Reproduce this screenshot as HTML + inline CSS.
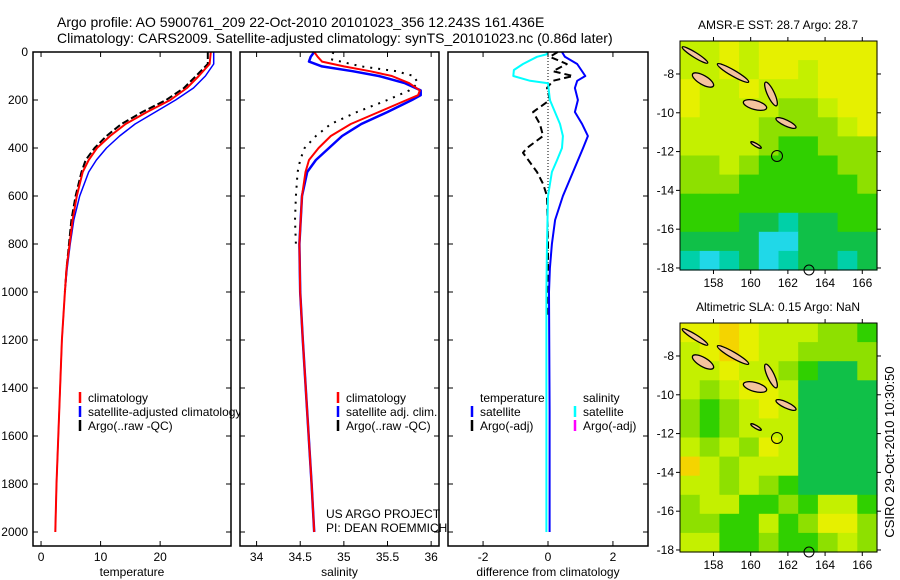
<!DOCTYPE html>
<html><head><meta charset="utf-8"><style>
html,body{margin:0;padding:0;background:#fff;}
svg{display:block;font-family:"Liberation Sans",sans-serif;}
text{fill:#000;}
</style></head><body>
<svg id="fig" width="900" height="580" viewBox="0 0 900 580" xmlns="http://www.w3.org/2000/svg">
<text x="57" y="27" font-size="14">Argo profile: AO 5900761_209 22-Oct-2010 20101023_356 12.243S 161.436E</text>
<text x="57" y="43" font-size="14">Climatology: CARS2009. Satellite-adjusted climatology: synTS_20101023.nc (0.86d later)</text>
<g id="p1"></g>
<g id="p2"></g>
<g id="p3"></g>
<g id="m1"></g>
<g id="m2"></g>
<text x="326" y="518" font-size="12">US ARGO PROJECT</text>
<text x="326" y="532" font-size="12">PI: DEAN ROEMMICH</text>
<text transform="translate(894,452) rotate(-90)" text-anchor="middle" font-size="13">CSIRO 29-Oct-2010 10:30:50</text>
</svg>
<script>
// ---- data ----
const tDepth = [0,50,100,150,200,250,300,350,400,450,500,600,700,800,900,1000,1200,1400,1600,1800,2000];
const tClim  = [28.5,28.3,26.5,24.5,21.7,17.8,14.2,11.6,9.4,8.0,7.0,6.0,5.3,4.8,4.3,4.0,3.5,3.2,2.9,2.6,2.4];
const tSat   = [29.0,29.0,27.6,25.6,22.6,19.2,15.8,13.2,11.0,9.3,8.0,6.5,5.5,4.9,4.4,4.0,3.5,3.2,2.9,2.6,2.4];
const tArgoDepth = [0,50,100,150,200,250,300,350,400,450,500,600,700,800,900,1000];
const tArgo  = [28.0,28.0,26.0,24.0,21.0,17.0,13.5,11.0,9.0,7.5,6.8,5.8,5.1,4.7,4.3,4.0];
const sDepth = [0,20,40,60,80,100,130,160,180,200,250,300,350,400,450,500,600,800,1000,1200,1500,1800,2000];
const sClim  = [34.66,34.70,34.75,35.00,35.30,35.55,35.75,35.87,35.85,35.72,35.40,35.08,34.85,34.71,34.60,34.56,34.52,34.49,34.50,34.53,34.58,34.63,34.66];
const sSat   = [34.66,34.62,34.60,34.75,35.10,35.40,35.70,35.88,35.88,35.78,35.50,35.20,34.98,34.83,34.68,34.58,34.52,34.49,34.50,34.53,34.58,34.63,34.66];
const sArgoDepth = [0,30,60,80,100,130,160,200,250,300,350,400,450,500,600,700,800];
const sArgo  = [34.88,34.85,35.20,35.60,35.80,35.85,35.75,35.50,35.15,34.85,34.68,34.55,34.50,34.47,34.45,34.44,34.45];
const dDepth = [0,10,20,50,75,100,120,130,200,300,350,400,450,500,600,800,1000,1500,2000];
const dSalSat = [0,-0.05,-0.34,-0.77,-1.05,-1.07,-0.55,0,0.06,0.37,0.46,0.43,0.28,0.12,0,-0.03,-0.05,-0.05,-0.05];
const dtDepth = [0,20,50,100,120,150,200,250,300,350,400,500,600,700,800,900,1000,1500,2000];
const dTempSat = [0.43,0.52,0.9,1.15,0.9,0.83,0.92,0.83,1.05,1.23,1.08,0.77,0.46,0.22,0.12,0.06,0.03,0.05,0.05];
const daDepth = [0,20,50,80,100,120,150,200,250,300,350,400,420,500,550,600,800,1000,1100];
const dTempArgo = [0.3,0.06,0.58,0.15,0.77,0.15,-0.03,0.06,-0.46,-0.25,-0.15,-0.65,-0.77,-0.34,-0.15,-0.03,0,0,0];
const depthTicks = [0,200,400,600,800,1000,1200,1400,1600,1800,2000];
const tTicks = [0,10,20];
const sTicks = [34,34.5,35,35.5,36];
const dTicks = [-2,0,2];
const latTicks = [-8,-10,-12,-14,-16,-18];
const lonTicks = [158,160,162,164,166];

const NS='http://www.w3.org/2000/svg';
const svg=document.getElementById('fig');
function mk(tag,attrs,parent){const e=document.createElementNS(NS,tag);for(const k in attrs)e.setAttribute(k,attrs[k]);(parent||svg).appendChild(e);return e;}
const Y=d=>52+d*0.24;
const Y0=52,Y1=546;

function panel(g,x0,x1,dom){
  mk('rect',{x:x0,y:Y0,width:x1-x0,height:Y1-Y0,fill:'#fff',stroke:'none'},g);
  const X=v=>x0+(v-dom[0])/(dom[1]-dom[0])*(x1-x0);
  return X;
}
function frame(g,x0,x1,X,ticks,label,yLabels){
  mk('rect',{x:x0,y:Y0,width:x1-x0,height:Y1-Y0,fill:'none',stroke:'#000','stroke-width':1.5},g);
  ticks.forEach(v=>{
    const x=X(v);
    const t1=mk('line',{x1:x,x2:x,y1:Y1,y2:Y1-5,stroke:'#000'},g);
    
    
    mk('line',{x1:x,x2:x,y1:Y0,y2:Y0+5,stroke:'#000'},g);
    const tl=mk('text',{x:x,y:Y1+15,'font-size':12,'text-anchor':'middle'},g);
    tl.textContent=String(v);
    
    
  });
  depthTicks.forEach(d=>{
    const y=Y(d);
    mk('line',{x1:x0,x2:x0+5,y1:y,y2:y,stroke:'#000'},g);
    mk('line',{x1:x1,x2:x1-5,y1:y,y2:y,stroke:'#000'},g);
    if(yLabels){
      const tl=mk('text',{x:x0-5,y:y+4,'font-size':12,'text-anchor':'end'},g);
      tl.textContent=String(d);
      
      
    }
  });
  const al=mk('text',{x:(x0+x1)/2,y:576,'font-size':12,'text-anchor':'middle'},g);
  al.textContent=label;
  
  
}
function line(g,X,vals,depths,color,w,dash,name){
  const pts=vals.map((v,i)=>X(v).toFixed(1)+','+Y(depths[i]).toFixed(1)).join(' ');
  const a={points:pts,fill:'none',stroke:color,'stroke-width':w,'stroke-linejoin':'round'};
  if(dash)a['stroke-dasharray']=dash;
  const p=mk('polyline',a,g);
  
  
}
function legend(g,x,y,color,txt){
  if(color){const m=mk('line',{x1:x,x2:x,y1:y-10,y2:y+1,stroke:color,'stroke-width':2.5},g);
    
    }
  const t=mk('text',{x:x+8,y:y,'font-size':12},g);
  t.textContent=txt;
  
  
}
// panel 1
const g1=document.getElementById('p1');
const X1=panel(g1,33,231,[-1.35,31.9]);
line(g1,X1,tArgo,tArgoDepth,'#000',2,'7,3','argo-temperature-line');
line(g1,X1,tSat,tDepth,'#0000ff',1.5,null,'satellite-temperature-line');
line(g1,X1,tClim,tDepth,'#ff0000',2,null,'climatology-temperature-line');
legend(g1,80,402,'#ff0000','climatology');
legend(g1,80,416,'#0000ff','satellite-adjusted climatology');
legend(g1,80,430,'#000','Argo(..raw -QC)');
frame(g1,33,231,X1,tTicks,'temperature',true);
// panel 2
const g2=document.getElementById('p2');
const X2=panel(g2,240,439,[33.81,36.09]);
line(g2,X2,sArgo,sArgoDepth,'#000',2,'2,6','argo-salinity-line');
line(g2,X2,sSat,sDepth,'#0000ff',2.5,null,'satellite-salinity-line');
line(g2,X2,sClim,sDepth,'#ff0000',2,null,'climatology-salinity-line');
legend(g2,338,402,'#ff0000','climatology');
legend(g2,338,416,'#0000ff','satellite adj. clim.');
legend(g2,338,430,'#000','Argo(..raw -QC)');
frame(g2,240,439,X2,sTicks,'salinity',false);
// panel 3
const g3=document.getElementById('p3');
const X3=panel(g3,448,648,[-3.08,3.08]);
mk('line',{x1:X3(0),x2:X3(0),y1:Y0,y2:Y(900),stroke:'#000','stroke-dasharray':'1,2'},g3);
line(g3,X3,dTempArgo,daDepth,'#000',2,'7,4','argo-temperature-diff-line');
line(g3,X3,dTempSat,dtDepth,'#0000ff',2,null,'satellite-temperature-diff-line');
line(g3,X3,dSalSat,dDepth,'#00ffff',2,null,'satellite-salinity-diff-line');
legend(g3,472,402,null,'temperature');
legend(g3,472,416,'#0000ff','satellite');
legend(g3,472,430,'#000','Argo(-adj)');
legend(g3,575,402,null,'salinity');
legend(g3,575,416,'#00ffff','satellite');
legend(g3,575,430,'#ff00ff','Argo(-adj)');
frame(g3,448,648,X3,dTicks,'difference from climatology',false);

// ---- maps ----
const pal={Y:'#e6f000',y:'#c4f000',o:'#f4d400',g:'#8ee000',G:'#30d000',D:'#10c048',c:'#00d0a8',C:'#20d8e8'};
const sstRows=['yyYyYYYYYY','yyYyYYyYYY','YyyYyyyYYY','YyyyyggyYY','yyyyggggyY','yyyygGGggg','ggygGGGGgg','gggGGGGGGg','GGGGGGGGGG','GGGDDcDDGG','DDDDCCDDDD','cCcDCcDDcD'];
const slaRows=['YYoYyyyggG','yYoYyygggg','yyYyygGDDg','ygyYYyDDDD','gGgyYyDDDD','gGgyyyDDDD','ygygYyDDDD','oygyyyDDDD','yygygGDDDD','gyyGGgGyyG','ggGGyGgYYg','yyGGgGGgyg'];
function map(gid,y0,rows,title){
  const g=document.getElementById(gid);
  const x0=680,w=197,h=229;
  const cw=w/10,ch=h/12;
  rows.forEach((r,j)=>{for(let i=0;i<10;i++){
    mk('rect',{x:(x0+i*cw).toFixed(1),y:(y0+j*ch).toFixed(1),width:(cw+0.6).toFixed(1),height:(ch+0.6).toFixed(1),fill:pal[r[i]]},g);
  }});
  const isl=[[695,14,15,2.5,32],[733,32,18,3,30],[703,39,12,4.5,30],[771,53,3.5,13,-25],[755,64,12,4.5,15],[786,82,11,3,25],[756,104,6,1.5,30]];
  isl.forEach(s=>{const e=mk('ellipse',{cx:s[0],cy:y0+s[1],rx:s[2],ry:s[3],fill:'#f5c39c',stroke:'#000','stroke-width':1.3,transform:`rotate(${s[4]} ${s[0]} ${y0+s[1]})`},g);
    
    });
  const c=mk('circle',{cx:777,cy:y0+115,r:5.5,fill:'none',stroke:'#000'},g);
  
  
  mk('circle',{cx:809,cy:y0+229,r:5,fill:'none',stroke:'#000'},g);
  mk('rect',{x:x0,y:y0,width:w,height:h,fill:'none',stroke:'#000'},g);
  const LX=lon=>680+(lon-156.2)*18.6, LY=lat=>y0+(lat+6.3)*(-19.4);
  latTicks.forEach(v=>{const y=LY(v);
    mk('line',{x1:x0,x2:x0-4,y1:y,y2:y,stroke:'#000'},g);
    mk('line',{x1:x0+w,x2:x0+w+4,y1:y,y2:y,stroke:'#000'},g);
    const t=mk('text',{x:x0-6,y:y+4,'font-size':12,'text-anchor':'end'},g);
    t.textContent=String(v);
    
    });
  lonTicks.forEach(v=>{const x=LX(v);
    mk('line',{x1:x,x2:x,y1:y0,y2:y0-4,stroke:'#000'},g);
    mk('line',{x1:x,x2:x,y1:y0+h,y2:y0+h+4,stroke:'#000'},g);
    const t=mk('text',{x:x,y:y0+h+17,'font-size':12,'text-anchor':'middle'},g);
    t.textContent=String(v);
    
    });
  const t=mk('text',{x:778,y:y0-12,'font-size':12,'text-anchor':'middle'},g);
  t.textContent=title;
  
  
}
map('m1',41,sstRows,'AMSR-E SST: 28.7 Argo: 28.7');
map('m2',323,slaRows,'Altimetric SLA: 0.15 Argo: NaN');
</script>
</body></html>
